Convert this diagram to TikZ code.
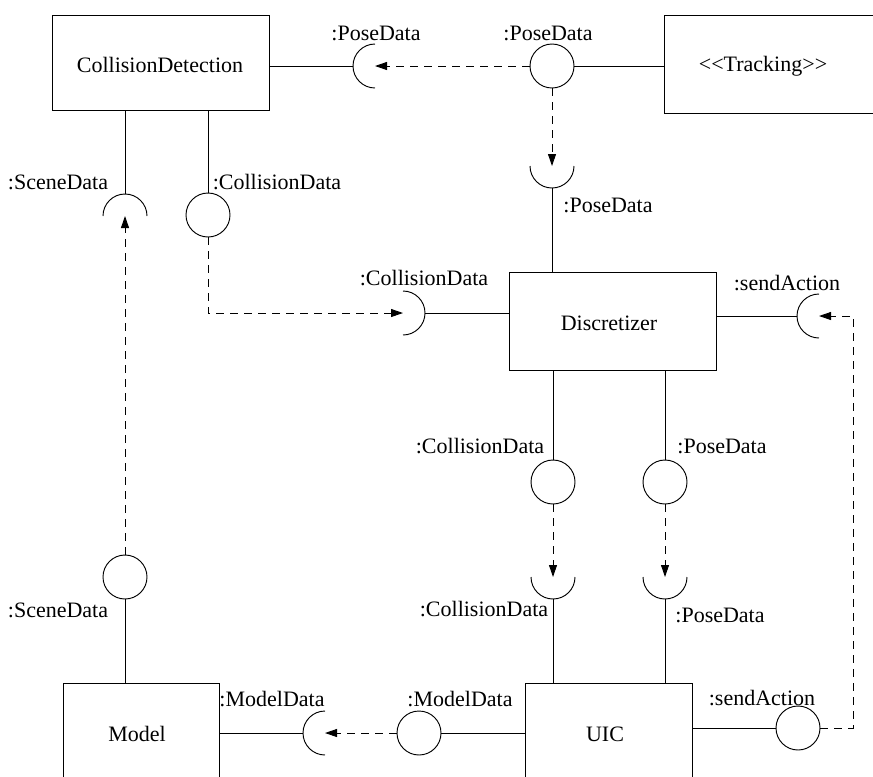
\documentclass[tikz,border=0pt]{standalone}
\usepackage{fontspec}
\setmainfont{Liberation Serif}
\usetikzlibrary{arrows.meta}
\begin{document}
\begin{tikzpicture}[x=0.75pt,y=0.75pt,
  every node/.style={font=\fontsize{16.5}{19}\selectfont},
  comp/.style={draw, rectangle, inner sep=0pt, line width=0.7pt},
  txt/.style={inner sep=0pt, anchor=center},
  lolli/.style={draw, circle, minimum size=33pt, inner sep=0pt, line width=0.7pt},
  wire/.style={line width=0.7pt},
  cup/.style={line width=0.7pt},
  dep/.style={line width=0.7pt, dash pattern=on 6pt off 4.5pt,
    -{Triangle[length=9pt,width=6pt]}}
]
\useasboundingbox (0,0) rectangle (873,-776);

% components
\node[comp, minimum width=162.75pt, minimum height=71.25pt] (cd) at (160.5,-62.5) {};
\node[txt] (cdtext) at (160,-65) {CollisionDetection};
\node[comp, minimum width=169.5pt, minimum height=73.5pt] (tr) at (777,-64) {};
\node[txt] (trtext) at (763,-66) {<\kern0pt<Tracking>\kern0pt>};
\node[comp, minimum width=155.25pt, minimum height=73.5pt] (dis) at (612.5,-321) {};
\node[txt] (distext) at (609,-323) {Discretizer};
\node[comp, minimum width=117pt, minimum height=87.75pt] (model) at (141,-741.5) {};
\node[txt] (modeltext) at (137,-734) {Model};
\node[comp, minimum width=125.25pt, minimum height=87.75pt] (uic) at (608.5,-741.5) {};
\node[txt] (uictext) at (605,-734) {UIC};

% provided interfaces (lollipops)
\node[lolli] (p1) at (552,-66) {};
\node[lolli] (c1) at (208,-215) {};
\node[lolli] (c2) at (553,-482) {};
\node[lolli] (p2) at (665,-482) {};
\node[lolli] (s1) at (125,-577) {};
\node[lolli] (m1) at (419,-733) {};
\node[lolli] (a1) at (798,-728) {};

% required interfaces (sockets)
\coordinate (ps1) at (375,-66);
\coordinate (ps2) at (552,-166);
\coordinate (ss1) at (125,-216);
\coordinate (cs1) at (403,-313);
\coordinate (cs2) at (553,-577);
\coordinate (ps3) at (665,-577);
\coordinate (as1) at (819,-316);
\coordinate (ms1) at (325,-733);

% sockets opening to the right
\draw[cup] ([yshift=16.5pt]ps1) arc[start angle=90,end angle=270,radius=16.5pt];
\draw[cup] ([yshift=16.5pt]as1) arc[start angle=90,end angle=270,radius=16.5pt];
\draw[cup] ([yshift=16.5pt]ms1) arc[start angle=90,end angle=270,radius=16.5pt];
% socket opening to the left
\draw[cup] ([yshift=16.5pt]cs1) arc[start angle=90,end angle=-90,radius=16.5pt];
% sockets opening upwards
\draw[cup] ([xshift=-16.5pt]ps2) arc[start angle=180,end angle=360,radius=16.5pt];
\draw[cup] ([xshift=-16.5pt]cs2) arc[start angle=180,end angle=360,radius=16.5pt];
\draw[cup] ([xshift=-16.5pt]ps3) arc[start angle=180,end angle=360,radius=16.5pt];
% socket opening downwards
\draw[cup] ([xshift=16.5pt]ss1) arc[start angle=0,end angle=180,radius=16.5pt];

% solid wires
\draw[wire] (cd.east |- ps1) -- ([xshift=-16.5pt]ps1);
\draw[wire] (p1.east) -- (tr.west |- p1);
\draw[wire] ([yshift=-16.5pt]ps2) -- (dis.north -| ps2);
\draw[wire] (cd.south -| ss1) -- ([yshift=16.5pt]ss1);
\draw[wire] (cd.south -| c1) -- (c1.north);
\draw[wire] ([xshift=16.5pt]cs1) -- (dis.west |- cs1);
\draw[wire] (dis.east |- as1) -- ([xshift=-16.5pt]as1);
\draw[wire] (dis.south -| c2) -- (c2.north);
\draw[wire] (dis.south -| p2) -- (p2.north);
\draw[wire] ([yshift=-16.5pt]cs2) -- (uic.north -| cs2);
\draw[wire] ([yshift=-16.5pt]ps3) -- (uic.north -| ps3);
\draw[wire] (s1.south) -- (model.north -| s1);
\draw[wire] (model.east |- ms1) -- ([xshift=-16.5pt]ms1);
\draw[wire] (m1.east) -- (uic.west |- m1);
\draw[wire] (uic.east |- a1) -- (a1.west);

% dependencies
\draw[dep] (p1.west) -- (ps1);
\draw[dep] (p1.south) -- (ps2);
\draw[dep] (s1.north) -- (ss1);
\draw[dep] (c1.south) |- (cs1);
\draw[dep] (c2.south) -- (cs2);
\draw[dep] (p2.south) -- (ps3);
\draw[dep] (m1.west) -- (ms1);
\coordinate (turn) at (853,-316);
\draw[dep] (a1.east) -| (turn) -- (as1);

% interface labels
\node[txt] (l1) at (376,-33) {:PoseData};
\node[txt] (l2) at (548,-33) {:PoseData};
\node[txt] (l3) at (608,-205) {:PoseData};
\node[txt] (l4) at (58,-182) {:SceneData};
\node[txt] (l5) at (277,-182) {:CollisionData};
\node[txt] (l6) at (424,-278) {:CollisionData};
\node[txt] (l7) at (787,-283) {:sendAction};
\node[txt] (l8) at (480,-446) {:CollisionData};
\node[txt] (l9) at (722,-446) {:PoseData};
\node[txt] (l10) at (58,-610) {:SceneData};
\node[txt] (l11) at (484,-609) {:CollisionData};
\node[txt] (l12) at (720,-615) {:PoseData};
\node[txt] (l13) at (272,-699) {:ModelData};
\node[txt] (l14) at (460,-699) {:ModelData};
\node[txt] (l15) at (762,-698) {:sendAction};
\end{tikzpicture}
\end{document}
